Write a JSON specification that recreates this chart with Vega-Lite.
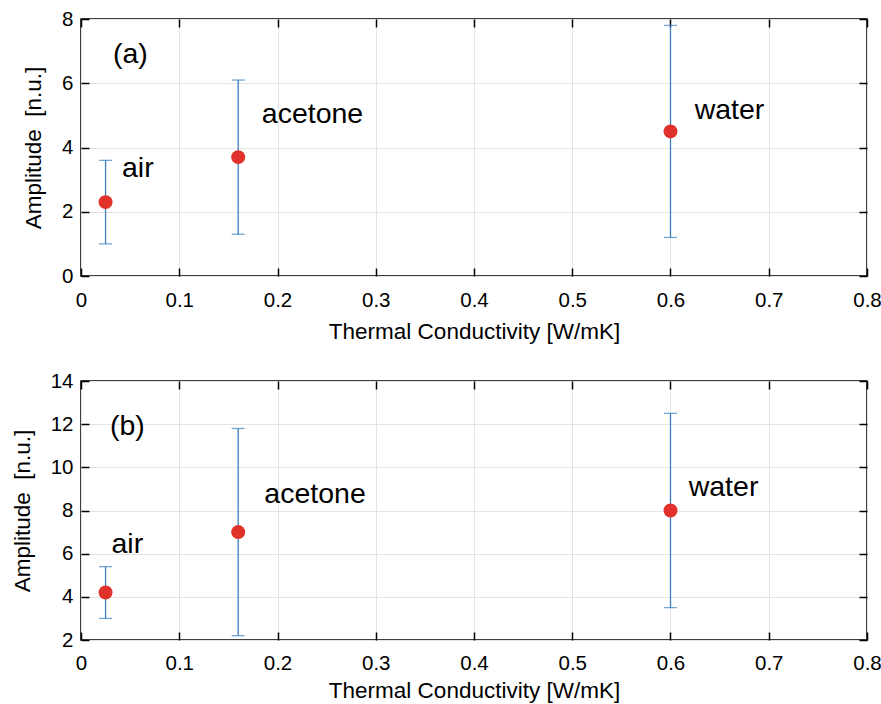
{
  "$schema": "https://vega.github.io/schema/vega-lite/v6.json",
  "padding": {"left": 10, "top": 8, "right": 0, "bottom": 0},
  "spacing": 26,
  "config": {
    "font": "Liberation Sans",
    "view": {"stroke": "black", "strokeWidth": 1.5},
    "axis": {
      "labelFont": "Liberation Sans",
      "titleFont": "Liberation Sans",
      "labelFontSize": 20.5,
      "titleFontSize": 22.5,
      "titleFontWeight": "normal",
      "labelColor": "#000000",
      "titleColor": "#000000",
      "labelFlush": false,
      "domain": false,
      "tickColor": "#000000",
      "tickWidth": 1.5,
      "gridColor": "#e4e4e4",
      "gridWidth": 1
    }
  },
  "datasets": {
    "a": [
      {"fluid": "air", "k": 0.025, "amp": 2.3, "lo": 1.0, "hi": 3.6},
      {"fluid": "acetone", "k": 0.16, "amp": 3.7, "lo": 1.3, "hi": 6.1},
      {"fluid": "water", "k": 0.6, "amp": 4.5, "lo": 1.2, "hi": 7.8}
    ],
    "b": [
      {"fluid": "air", "k": 0.025, "amp": 4.2, "lo": 3.0, "hi": 5.4},
      {"fluid": "acetone", "k": 0.16, "amp": 7.0, "lo": 2.2, "hi": 11.8},
      {"fluid": "water", "k": 0.6, "amp": 8.0, "lo": 3.5, "hi": 12.5}
    ],
    "la": [
      {"label": "(a)", "x": 0.0326, "y": 6.63},
      {"label": "air", "x": 0.0417, "y": 3.09},
      {"label": "acetone", "x": 0.184, "y": 4.75},
      {"label": "water", "x": 0.6246, "y": 4.88}
    ],
    "lb": [
      {"label": "(b)", "x": 0.0295, "y": 11.5},
      {"label": "air", "x": 0.031, "y": 6.02},
      {"label": "acetone", "x": 0.1866, "y": 8.33},
      {"label": "water", "x": 0.6185, "y": 8.67}
    ]
  },
  "vconcat": [
    {
      "width": 786,
      "height": 257,
      "resolve": {"axis": {"x": "independent", "y": "independent"}},
      "layer": [
        {
          "data": {"name": "a"},
          "mark": {"type": "errorbar", "color": "#3a7fc0", "thickness": 1.3, "ticks": {"size": 13, "thickness": 1.3}},
          "encoding": {
            "x": {"field": "k", "type": "quantitative", "scale": {"domain": [0, 0.8], "nice": false},
              "axis": {"orient": "bottom", "values": [0,0.1,0.2,0.3,0.4,0.5,0.6,0.7,0.8], "format": "~g", "tickSize": -8, "labelPadding": 22, "grid": true, "title": "Thermal Conductivity [W/mK]", "titlePadding": 10}},
            "y": {"field": "lo", "type": "quantitative", "scale": {"domain": [0, 8], "nice": false},
              "axis": {"orient": "left", "values": [0,2,4,6,8], "tickSize": -8, "labelPadding": 16, "grid": true, "title": "Amplitude \u00a0[n.u.]", "titlePadding": 16}},
            "y2": {"field": "hi"}
          }
        },
        {
          "data": {"name": "a"},
          "mark": {"type": "circle", "size": 195, "color": "#e0322a", "opacity": 1},
          "encoding": {
            "x": {"field": "k", "type": "quantitative", "axis": {"orient": "top", "values": [0,0.1,0.2,0.3,0.4,0.5,0.6,0.7,0.8], "labels": false, "tickSize": -8, "grid": false, "title": null}},
            "y": {"field": "amp", "type": "quantitative", "axis": {"orient": "right", "values": [0,2,4,6,8], "labels": false, "tickSize": -8, "grid": false, "title": null}}
          }
        },
        {
          "data": {"name": "la"},
          "mark": {"type": "text", "align": "left", "baseline": "alphabetic", "fontSize": 28.5, "font": "Liberation Sans", "color": "#000000"},
          "encoding": {
            "x": {"field": "x", "type": "quantitative", "axis": null},
            "y": {"field": "y", "type": "quantitative", "axis": null},
            "text": {"field": "label"}
          }
        }
      ]
    },
    {
      "width": 786,
      "height": 259,
      "resolve": {"axis": {"x": "independent", "y": "independent"}},
      "layer": [
        {
          "data": {"name": "b"},
          "mark": {"type": "errorbar", "color": "#3a7fc0", "thickness": 1.3, "ticks": {"size": 13, "thickness": 1.3}},
          "encoding": {
            "x": {"field": "k", "type": "quantitative", "scale": {"domain": [0, 0.8], "nice": false},
              "axis": {"orient": "bottom", "values": [0,0.1,0.2,0.3,0.4,0.5,0.6,0.7,0.8], "format": "~g", "tickSize": -8, "labelPadding": 21, "grid": true, "title": "Thermal Conductivity [W/mK]", "titlePadding": 6}},
            "y": {"field": "lo", "type": "quantitative", "scale": {"domain": [2, 14], "nice": false},
              "axis": {"orient": "left", "values": [2,4,6,8,10,12,14], "tickSize": -8, "labelPadding": 16, "grid": true, "title": "Amplitude \u00a0[n.u.]", "titlePadding": 16}},
            "y2": {"field": "hi"}
          }
        },
        {
          "data": {"name": "b"},
          "mark": {"type": "circle", "size": 195, "color": "#e0322a", "opacity": 1},
          "encoding": {
            "x": {"field": "k", "type": "quantitative", "axis": {"orient": "top", "values": [0,0.1,0.2,0.3,0.4,0.5,0.6,0.7,0.8], "labels": false, "tickSize": -8, "grid": false, "title": null}},
            "y": {"field": "amp", "type": "quantitative", "axis": {"orient": "right", "values": [2,4,6,8,10,12,14], "labels": false, "tickSize": -8, "grid": false, "title": null}}
          }
        },
        {
          "data": {"name": "lb"},
          "mark": {"type": "text", "align": "left", "baseline": "alphabetic", "fontSize": 28.5, "font": "Liberation Sans", "color": "#000000"},
          "encoding": {
            "x": {"field": "x", "type": "quantitative", "axis": null},
            "y": {"field": "y", "type": "quantitative", "axis": null},
            "text": {"field": "label"}
          }
        }
      ]
    }
  ]
}
